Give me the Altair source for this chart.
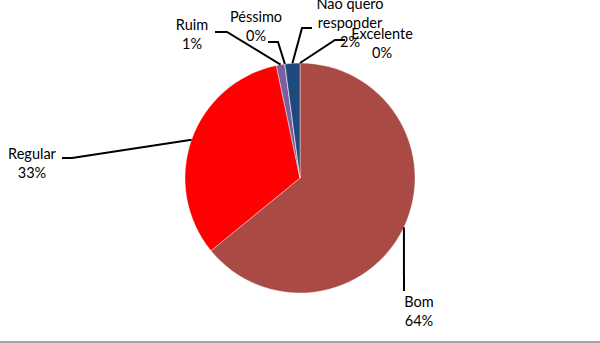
import math
import altair as alt
import pandas as pd

# Data
categories = ["Excelente", "Bom", "Regular", "Ruim", "Péssimo", "Não quero responder"]
values = [0.0, 64.1, 32.6, 1.2, 0.0, 2.1]
pct_labels = ["0%", "64%", "33%", "1%", "0%", "2%"]
label_lines = [["Excelente", "0%"], ["Bom", "64%"], ["Regular", "33%"], ["Ruim", "1%"],
               ["Péssimo", "0%"], ["Não quero", "responder", "2%"]]
colors = ["#4F81BD", "#A94A45", "#FF0000", "#7D5FA0", "#9BBB59", "#1F497D"]

# Layout
W, H = 600, 343
CX, CY, R = 300, 178, 115
label_pos = {  # label anchor (center x, first line y)
    "Excelente": (382, 35), "Bom": (419, 303), "Regular": (32, 155),
    "Ruim": (192, 26), "Péssimo": (256, 18), "Não quero responder": (350, 5),
}
elbows = {  # leader line bend + end
    "Excelente": [(335, 40), (345, 40)], "Bom": [(404, 291)],
    "Regular": [(72, 158), (62, 158)], "Ruim": [(227, 32), (215, 32)],
    "Péssimo": [(278, 42), (268, 42)], "Não quero responder": [(302, 28), (312, 28)],
}

total = sum(values)
pie_df = pd.DataFrame({"cat": categories, "v": values, "idx": list(range(len(categories)))})

# leader lines, starting at slice mid-angle on the rim
rows = []
cum = 0.0
for c, v in zip(categories, values):
    mid = (cum + v / 2) / total
    if v == 0 and c == "Excelente":
        mid = 1.0
    cum += v
    a = 2 * math.pi * mid
    pts = [(CX + R * math.sin(a), CY - R * math.cos(a))] + elbows[c]
    for i, (x, y) in enumerate(pts):
        rows.append({"cat": c, "seq": i, "x": x, "y": y})
line_df = pd.DataFrame(rows)

lab_df = pd.DataFrame({
    "cat": categories,
    "text": label_lines,
    "x": [label_pos[c][0] for c in categories],
    "y": [label_pos[c][1] for c in categories],
})

xs = alt.Scale(domain=[0, W], range=[0, W])
ys = alt.Scale(domain=[0, H], range=[0, H])

pie = alt.Chart(pie_df).mark_arc(
    radius=R, stroke="#ffffff", strokeWidth=0.4
).encode(
    theta=alt.Theta("v:Q", stack=True),
    color=alt.Color("cat:N", scale=alt.Scale(domain=categories, range=colors), legend=None),
    order=alt.Order("idx:Q"),
    x=alt.value(CX), y=alt.value(CY),
)

lines = alt.Chart(line_df).mark_line(color="black", strokeWidth=2).encode(
    x=alt.X("x:Q", scale=xs, axis=None),
    y=alt.Y("y:Q", scale=ys, axis=None),
    detail="cat:N",
    order="seq:Q",
)

texts = alt.Chart(lab_df).mark_text(
    font="Lato", fontSize=14.5, color="#000000", align="center", baseline="middle", lineHeight=19
).encode(
    x=alt.X("x:Q", scale=xs, axis=None),
    y=alt.Y("y:Q", scale=ys, axis=None),
    text="text",
)

border = alt.Chart(pd.DataFrame({"a": [0]})).mark_rule(color="#898989", strokeWidth=1.5).encode(
    x=alt.value(0), x2=alt.value(W), y=alt.value(342), y2=alt.value(342)
)

chart = alt.layer(pie, lines, texts, border).properties(
    width=W, height=H, autosize=alt.AutoSizeParams(type="none"), padding=0
).configure_view(stroke=None)

chart.save("out.html", embed_options={"renderer": "svg", "actions": False})
